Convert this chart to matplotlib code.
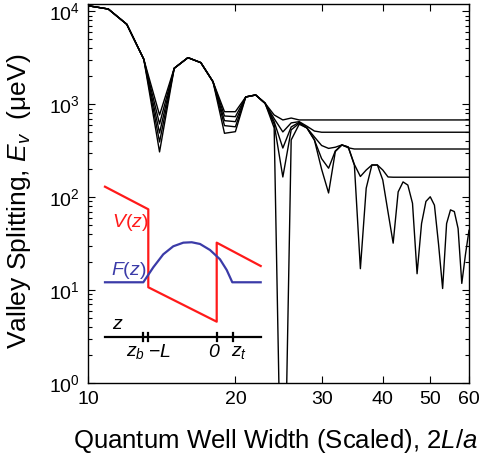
import numpy as np
import matplotlib
matplotlib.use('Agg')
import matplotlib.pyplot as plt
from matplotlib.ticker import FixedLocator, NullLocator, LogLocator, FuncFormatter, NullFormatter

plt.rcParams['font.family'] = ['Liberation Sans', 'DejaVu Sans']
plt.rcParams['mathtext.fontset'] = 'custom'
plt.rcParams['mathtext.rm'] = 'Liberation Sans'
plt.rcParams['mathtext.it'] = 'Liberation Sans:italic'
plt.rcParams['mathtext.bf'] = 'Liberation Sans:bold'

# %% data: valley splitting (ueV) vs scaled well width 2L/a
widths = list(range(10, 61))

split_1 = [11500, 10600, 7260, 3050, 767, 2440, 3175, 2805, 1750, 832, 832, 1199, 1259, 1025,
           767, 678, 711, 678, 678, 678, 678, 678, 678, 678, 678, 678, 678, 678, 678, 678,
           678, 678, 678, 678, 678, 678, 678, 678, 678, 678, 678, 678, 678, 678, 678, 678,
           678, 678, 678, 678, 678]
split_2 = [11500, 10600, 7260, 3050, 614, 2440, 3175, 2805, 1750, 748, 735, 1199, 1259, 1025,
           700, 504, 630, 650, 580, 515, 500, 500, 500, 500, 500, 500, 500, 500, 500, 500,
           500, 500, 500, 500, 500, 500, 500, 500, 500, 500, 500, 500, 500, 500, 500, 500,
           500, 500, 500, 500, 500]
split_3 = [11500, 10600, 7260, 3050, 491, 2440, 3175, 2805, 1750, 666, 650, 1199, 1259, 1025,
           650, 338, 570, 640, 556, 445, 360, 335, 345, 365, 340, 330, 330, 330, 330, 330,
           330, 330, 330, 330, 330, 330, 330, 330, 330, 330, 330, 330, 330, 330, 330, 330,
           330, 330, 330, 330, 330]
split_4 = [11500, 10600, 7260, 3050, 393, 2440, 3175, 2805, 1750, 589, 572, 1199, 1259, 1025,
           610, 165, 530, 625, 556, 413, 260, 205, 315, 365, 347, 225, 167, 196, 222, 222,
           196, 165, 164, 164, 164, 164, 164, 164, 164, 164, 164, 164, 164, 164, 164, 164,
           164, 164, 164, 164, 164]
split_5 = [11500, 10600, 7260, 3050, 307, 2440, 3175, 2805, 1750, 487, 507, 1199, 1259, 1025,
           556, 0.005, 413, 610, 556, 413, 200, 111, 310, 365, 347, 220, 17, 125, 222, 222,
           153, 69, 32, 114, 146, 135, 86, 15, 52, 90, 101, 82, 31, 10.4, 52, 73, 70, 46,
           11.8, 24, 44]

# inset schematic (z in units of L, energy in arbitrary units)
pot_z = [-1.633, -1.0, -1.0, 0.0, 0.0, 0.643]
pot_V = [2.270, 1.940, 0.800, 0.297, 1.452, 1.111]
env_z = [-1.633, -1.073, -0.927, -0.781, -0.635, -0.488, -0.365, -0.244, -0.098, 0.048, 0.146, 0.228, 0.643]
env_F = [0.873, 0.873, 1.092, 1.282, 1.399, 1.452, 1.458, 1.433, 1.345, 1.209, 1.053, 0.873, 0.873]
z_ticks = [-1.073, -1.0, 0.0, 0.234]
z_tick_labels = ['$z_b$', '$-L$', '0', '$z_t$']

# %% figure
fig = plt.figure(figsize=(4.85, 4.66), dpi=100)
ax = fig.add_axes([88/485, (466-383)/466, (469-88)/485, (383-4)/466])

for s in [split_1, split_2, split_3, split_4, split_5]:
    ax.plot(widths, s, color='black', lw=1.0)

ax.set_xscale('log')
ax.set_yscale('log')
ax.set_xlim(10, 60)
ax.set_ylim(1, 1.2e4)

ax.xaxis.set_major_locator(FixedLocator([10, 20, 30, 40, 50, 60]))
ax.xaxis.set_minor_locator(NullLocator())
ax.xaxis.set_major_formatter(FuncFormatter(lambda v, p: '%d' % v))
ax.xaxis.set_minor_formatter(NullFormatter())
ax.yaxis.set_major_locator(LogLocator(base=10, numticks=10))
ax.yaxis.set_minor_locator(LogLocator(base=10, subs=np.arange(2, 10), numticks=20))
ax.yaxis.set_major_formatter(FuncFormatter(lambda v, p: r'$\mathregular{10^{%d}}$' % round(np.log10(v))))
ax.yaxis.set_minor_formatter(NullFormatter())

ax.tick_params(which='both', direction='in', top=True, right=True, labelsize=14, width=0.8)
ax.tick_params(which='major', length=5, pad=6)
ax.tick_params(which='minor', length=3)
for sp in ax.spines.values():
    sp.set_linewidth(1.0)

ax.set_xlabel('Quantum Well Width (Scaled), 2$L$/$a$', fontsize=18.5)
ax.set_ylabel('Valley Splitting, $E_v$  (\u03bceV)', fontsize=19)
ax.xaxis.set_label_coords(0.492, -0.115)
ax.yaxis.set_label_coords(-0.145, 0.48)

# %% inset schematic
ins = fig.add_axes([100/485, (466-360)/466, 165/485, 180/466])
ins.axis('off')
ins.set_xlim(-1.706, 0.706)
ins.set_ylim(-0.263, 2.368)

red = '#ff1a1a'
blue = '#3b3ba8'
ins.plot(pot_z, pot_V, color=red, lw=1.6)
ins.plot(env_z, env_F, color=blue, lw=1.6)
ins.plot([pot_z[0], pot_z[-1]], [0.069, 0.069], color='black', lw=1.6)
for zt in z_ticks:
    ins.plot([zt, zt], [0.01, 0.13], color='black', lw=1.6)

ins.text(-1.27, 1.74, '$V(z)$', color=red, fontsize=14, ha='center', va='center')
ins.text(-1.29, 1.05, '$F(z)$', color=blue, fontsize=14, ha='center', va='center')
ins.text(-1.44, 0.25, '$z$', fontsize=14, ha='center', va='center')
ins.text(-1.19, -0.16, z_tick_labels[0], fontsize=14, ha='center', va='center')
ins.text(-0.83, -0.16, z_tick_labels[1], fontsize=14, ha='center', va='center')
ins.text(-0.05, -0.16, z_tick_labels[2], fontsize=14, ha='center', va='center', style='italic')
ins.text(0.32, -0.16, z_tick_labels[3], fontsize=14, ha='center', va='center')

fig.savefig('out.png', dpi=100)
